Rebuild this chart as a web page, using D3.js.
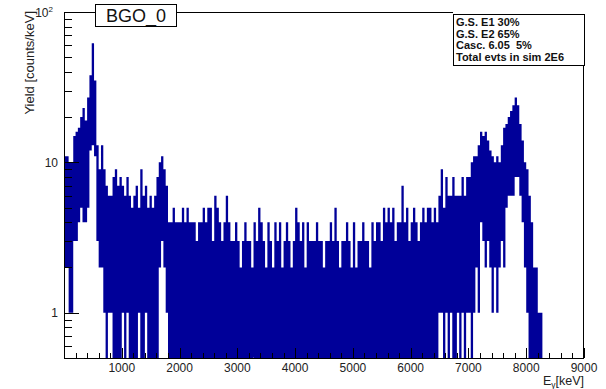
<!DOCTYPE html>
<html><head><meta charset="utf-8">
<script src="https://cdn.jsdelivr.net/npm/d3@7"></script>
<style>
body{margin:0;background:#fff}
svg{display:block}
text{font-family:"Liberation Sans",Arial,Helvetica,sans-serif}
</style>
</head><body>
<svg id="c" width="606" height="389"></svg>
<script>
// ---- data (counts/keV per 40 keV bin: max and min of the fine histogram in that bin) ----
const binWidth = 40;
const maxLow = [11,11,10,10,15,16,17,20,23,19, 27,38,62,35,13,9,13,9,7,6,
                6,8,9,7,8,7,6,8,6,5, 6,7,5,9,6,7,5,6,5,6,
                8,10,11,9,7,4,4,5,4,4];
const maxMidA = [4,5,4,5,4,4,4,3,4,4, 5,4,5,5,3,6,5,4,3,4,
                 6,4,3,3,4,3,2,3,4,3, 3,2,4,3,5,4,3,2,4,3,
                 2,4,3,4,2,3,4,3,2,3];
const maxMidB = [5,4,3,4,2,4,3,3,3,4, 3,3,2,3,3,4,3,5,3,2,
                 3,3,4,3,2,4,2,3,3,4, 3,3,2,4,3,4,4,3,5,4,
                 5,4,5,3,4,4,7,4,5,3];
const maxHigh = [4,5,4,3,4,5,4,5,5,4, 5,4,6,9,5,8,6,6,8,6,
                 6,6,8,6,8,8,10,11,11,13, 16,15,16,14,12,11,10,11,10,13,
                 17,18,20,22,24,27,24,18,14,10, 9,6,4,2,2,1,1,0,0,0,
                 0,0,0,0,0,0,0,0,0,0, 0,0,0,0,0];
// lower edge of the filled band (0 = drawn down to the axis)
const minLow = [2,2,1,1,3,3,4,5,4,4, 5,12,13,11,3,2,2,1,0,1,
                1,0,0,0,0,1,0,1,0,0, 0,0,1,0,0,1,0,0,0,0,
                0,2,3,2,1,0,0,0,0,0];
const minHighStart = 150;
const minHigh = [0,0,0,0,0,0,0,0,0,0, 0,0,1,1,0,1,0,1,0,0,
                 1,0,1,0,1,1,0,1,2,1, 4,3,2,3,2,1,2,1,2,3,
                 2,5,6,6,6,8,8,6,4,2, 1,0,0,0,0,0,0];
const xTickLabels = [1000,2000,3000,4000,5000,6000,7000,8000,9000];
const yMajor = [1,10,100];
const yMinor = [0.6,0.7,0.8,0.9,2,3,4,5,6,7,8,9,20,30,40,50,60,70,80,90];
const legendLines = ["G.S. E1 30%","G.S. E2 65%","Casc. 6.05  5%","Total evts in sim 2E6"];
const histTitle = "BGO_0";

// ---- drawing ----
const svg = d3.select("#c");
const L = 64, R = 584, T = 12, B = 358;
const x = d3.scaleLinear().domain([0, 9000]).range([L, R]);
const y = d3.scaleLog().domain([0.5, 100]).range([B, T]);

const maxAll = maxLow.concat(maxMidA, maxMidB, maxHigh);
const bins = maxAll.map((m, i) => {
  let mn = 0;
  if (i < minLow.length) mn = minLow[i];
  else if (i >= minHighStart && i - minHighStart < minHigh.length) mn = minHigh[i - minHighStart];
  return {e0: i * binWidth, e1: (i + 1) * binWidth, max: m, min: mn};
});

// one path for all columns (avoids seams between adjacent bins)
const p = d3.path();
bins.filter(d => d.max > 0).forEach(d => {
  const x0 = x(d.e0), x1 = x(d.e1);
  const yt = y(d.max);
  const yb = Math.max(yt + 1, d.min > 0 ? y(d.min) : B);
  p.moveTo(x0, yt); p.lineTo(x1, yt); p.lineTo(x1, yb); p.lineTo(x0, yb); p.closePath();
});
svg.append("path").attr("d", p.toString()).attr("fill", "#000099");

// frame
svg.append("rect").attr("x", L + 0.5).attr("y", T + 0.5)
  .attr("width", R - L - 1).attr("height", B - T)
  .attr("fill", "none").attr("stroke", "#000").attr("stroke-width", 1);

// x ticks
const xMinorVals = d3.range(200, 9000, 200).filter(v => v % 1000 !== 0);
const gx = svg.append("g");
gx.selectAll("line.mi").data(xMinorVals).join("line")
  .attr("x1", d => Math.round(x(d)) + 0.5).attr("x2", d => Math.round(x(d)) + 0.5)
  .attr("y1", B).attr("y2", B - 5).attr("stroke", "#000");
gx.selectAll("line.ma").data(xTickLabels).join("line")
  .attr("x1", d => Math.round(x(d)) + 0.5).attr("x2", d => Math.round(x(d)) + 0.5)
  .attr("y1", B).attr("y2", B - 10).attr("stroke", "#000");
gx.selectAll("text").data(xTickLabels).join("text")
  .attr("x", d => x(d)).attr("y", 371.5)
  .attr("text-anchor", "middle").attr("font-size", 12).attr("fill", "#222")
  .text(d => d);

// y ticks
const gy = svg.append("g");
gy.selectAll("line.mi").data(yMinor).join("line")
  .attr("x1", L).attr("x2", L + 8)
  .attr("y1", d => Math.round(y(d)) + 0.5).attr("y2", d => Math.round(y(d)) + 0.5)
  .attr("stroke", "#000");
gy.selectAll("line.ma").data(yMajor).join("line")
  .attr("x1", L).attr("x2", L + 15)
  .attr("y1", d => Math.round(y(d)) + 0.5).attr("y2", d => Math.round(y(d)) + 0.5)
  .attr("stroke", "#000");
gy.selectAll("text").data(yMajor).join("text")
  .attr("x", d => d === 100 ? 53 : 58)
  .attr("y", d => y(d) + (d === 100 ? 5 : 4.5))
  .attr("text-anchor", "end").attr("font-size", 12).attr("fill", "#222")
  .each(function(d) {
    const t = d3.select(this);
    if (d === 100) {
      t.text("10");
      t.append("tspan").attr("font-size", 8).attr("dy", -5).text("2");
    } else t.text(d);
  });

// axis titles
svg.append("text").attr("transform", `translate(34,${T - 1}) rotate(-90)`)
  .attr("text-anchor", "end").attr("font-size", 13).attr("fill", "#222")
  .text("Yield [counts/keV]");
const xt = svg.append("text").attr("x", R).attr("y", 385)
  .attr("text-anchor", "end").attr("font-size", 12.5).attr("fill", "#222");
xt.append("tspan").text("E");
xt.append("tspan").attr("font-size", 8.5).attr("dy", 2.5).text("γ");
xt.append("tspan").attr("dy", -2.5).text("[keV]");

// title box
svg.append("rect").attr("x", 95.5).attr("y", 4.5).attr("width", 81).attr("height", 22)
  .attr("fill", "#fff").attr("stroke", "#000");
svg.append("text").attr("x", 136).attr("y", 21.5).attr("text-anchor", "middle")
  .attr("font-size", 18).attr("fill", "#111").text(histTitle);

// info box
svg.append("rect").attr("x", 453).attr("y", 10).attr("width", 132).attr("height", 4).attr("fill", "#fff");
svg.append("rect").attr("x", 453.5).attr("y", 14.5).attr("width", 131).attr("height", 51)
  .attr("fill", "#fff").attr("stroke", "#000");
svg.append("g").selectAll("text").data(legendLines).join("text")
  .attr("x", 456).attr("y", (d, i) => 26 + i * 11.5)
  .attr("font-size", 11).attr("font-weight", "bold").attr("fill", "#111")
  .attr("xml:space", "preserve").style("white-space", "pre")
  .text(d => d);
</script>
</body></html>
